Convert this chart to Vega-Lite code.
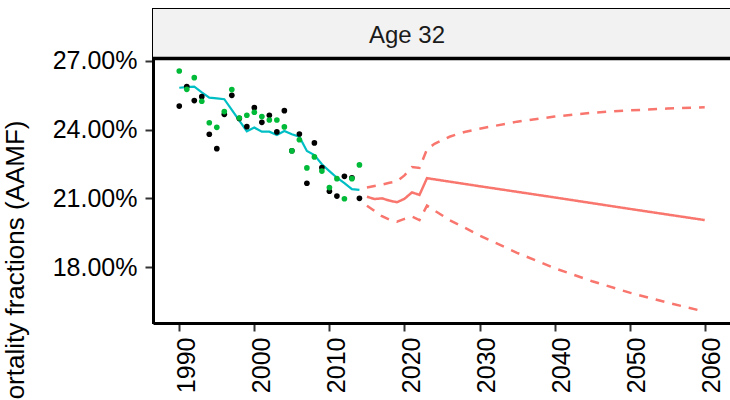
{
  "$schema": "https://vega.github.io/schema/vega-lite/v6.json",
  "autosize": {"type": "none"},
  "width": 578,
  "height": 314,
  "padding": {"left": 153, "top": 9, "right": 0, "bottom": 80},
  "background": "white",
  "config": {
    "font": "Liberation Sans",
    "view": {"stroke": "black", "strokeWidth": 2},
    "axis": {"grid": false}
  },
  "datasets": {
    "obs": [
      {"year": 1990, "kind": "A", "value": 0.2503},
      {"year": 1991, "kind": "A", "value": 0.2588},
      {"year": 1992, "kind": "A", "value": 0.2527},
      {"year": 1993, "kind": "A", "value": 0.2544},
      {"year": 1994, "kind": "A", "value": 0.2380},
      {"year": 1995, "kind": "A", "value": 0.2317},
      {"year": 1996, "kind": "A", "value": 0.2467},
      {"year": 1997, "kind": "A", "value": 0.2550},
      {"year": 1998, "kind": "A", "value": 0.2449},
      {"year": 1999, "kind": "A", "value": 0.2413},
      {"year": 2000, "kind": "A", "value": 0.2496},
      {"year": 2001, "kind": "A", "value": 0.2432},
      {"year": 2002, "kind": "A", "value": 0.2463},
      {"year": 2003, "kind": "A", "value": 0.2390},
      {"year": 2004, "kind": "A", "value": 0.2483},
      {"year": 2005, "kind": "A", "value": 0.2308},
      {"year": 2006, "kind": "A", "value": 0.2381},
      {"year": 2007, "kind": "A", "value": 0.2166},
      {"year": 2008, "kind": "A", "value": 0.2342},
      {"year": 2009, "kind": "A", "value": 0.2234},
      {"year": 2010, "kind": "A", "value": 0.2131},
      {"year": 2011, "kind": "A", "value": 0.2110},
      {"year": 2012, "kind": "A", "value": 0.2196},
      {"year": 2013, "kind": "A", "value": 0.2190},
      {"year": 2014, "kind": "A", "value": 0.2100},
      {"year": 1990, "kind": "B", "value": 0.2656},
      {"year": 1991, "kind": "B", "value": 0.2576},
      {"year": 1992, "kind": "B", "value": 0.2627},
      {"year": 1993, "kind": "B", "value": 0.2524},
      {"year": 1994, "kind": "B", "value": 0.2430},
      {"year": 1995, "kind": "B", "value": 0.2410},
      {"year": 1996, "kind": "B", "value": 0.2479},
      {"year": 1997, "kind": "B", "value": 0.2575},
      {"year": 1998, "kind": "B", "value": 0.2451},
      {"year": 1999, "kind": "B", "value": 0.2463},
      {"year": 2000, "kind": "B", "value": 0.2476},
      {"year": 2001, "kind": "B", "value": 0.2457},
      {"year": 2002, "kind": "B", "value": 0.2442},
      {"year": 2003, "kind": "B", "value": 0.2442},
      {"year": 2004, "kind": "B", "value": 0.2412},
      {"year": 2005, "kind": "B", "value": 0.2307},
      {"year": 2006, "kind": "B", "value": 0.2356},
      {"year": 2007, "kind": "B", "value": 0.2233},
      {"year": 2008, "kind": "B", "value": 0.2281},
      {"year": 2009, "kind": "B", "value": 0.2219},
      {"year": 2010, "kind": "B", "value": 0.2147},
      {"year": 2011, "kind": "B", "value": 0.2186},
      {"year": 2012, "kind": "B", "value": 0.2098},
      {"year": 2013, "kind": "B", "value": 0.2186},
      {"year": 2014, "kind": "B", "value": 0.2246}
    ],
    "fit": [
      {"year": 1990, "value": 0.2583},
      {"year": 1991, "value": 0.2586},
      {"year": 1992, "value": 0.2588},
      {"year": 1993, "value": 0.2563},
      {"year": 1994, "value": 0.2540},
      {"year": 1995, "value": 0.2537},
      {"year": 1996, "value": 0.2533},
      {"year": 1997, "value": 0.2486},
      {"year": 1998, "value": 0.2439},
      {"year": 1999, "value": 0.2393},
      {"year": 2000, "value": 0.2409},
      {"year": 2001, "value": 0.2391},
      {"year": 2002, "value": 0.2391},
      {"year": 2003, "value": 0.2377},
      {"year": 2004, "value": 0.2394},
      {"year": 2005, "value": 0.2380},
      {"year": 2006, "value": 0.2369},
      {"year": 2007, "value": 0.2307},
      {"year": 2008, "value": 0.2289},
      {"year": 2009, "value": 0.2249},
      {"year": 2010, "value": 0.2219},
      {"year": 2011, "value": 0.2190},
      {"year": 2012, "value": 0.2166},
      {"year": 2013, "value": 0.2140},
      {"year": 2014, "value": 0.2137}
    ],
    "proj": [
      {"year": 2015, "band": "mean", "value": 0.2107},
      {"year": 2016, "band": "mean", "value": 0.2097},
      {"year": 2017, "band": "mean", "value": 0.2100},
      {"year": 2018, "band": "mean", "value": 0.2090},
      {"year": 2019, "band": "mean", "value": 0.2083},
      {"year": 2020, "band": "mean", "value": 0.2098},
      {"year": 2021, "band": "mean", "value": 0.2126},
      {"year": 2022, "band": "mean", "value": 0.2115},
      {"year": 2023, "band": "mean", "value": 0.2188},
      {"year": 2030, "band": "mean", "value": 0.2153},
      {"year": 2040, "band": "mean", "value": 0.2104},
      {"year": 2050, "band": "mean", "value": 0.2054},
      {"year": 2060, "band": "mean", "value": 0.2005},
      {"year": 2015, "band": "upper", "value": 0.2147},
      {"year": 2016, "band": "upper", "value": 0.2154},
      {"year": 2017, "band": "upper", "value": 0.2160},
      {"year": 2018, "band": "upper", "value": 0.2168},
      {"year": 2019, "band": "upper", "value": 0.2174},
      {"year": 2020, "band": "upper", "value": 0.2200},
      {"year": 2021, "band": "upper", "value": 0.2237},
      {"year": 2022, "band": "upper", "value": 0.2233},
      {"year": 2023, "band": "upper", "value": 0.2314},
      {"year": 2024, "band": "upper", "value": 0.2338},
      {"year": 2026, "band": "upper", "value": 0.2369},
      {"year": 2028, "band": "upper", "value": 0.2390},
      {"year": 2030, "band": "upper", "value": 0.2404},
      {"year": 2035, "band": "upper", "value": 0.2435},
      {"year": 2040, "band": "upper", "value": 0.2457},
      {"year": 2045, "band": "upper", "value": 0.2474},
      {"year": 2050, "band": "upper", "value": 0.2484},
      {"year": 2055, "band": "upper", "value": 0.2492},
      {"year": 2060, "band": "upper", "value": 0.2498},
      {"year": 2015, "band": "lower", "value": 0.2068},
      {"year": 2016, "band": "lower", "value": 0.2045},
      {"year": 2017, "band": "lower", "value": 0.2022},
      {"year": 2018, "band": "lower", "value": 0.2007},
      {"year": 2019, "band": "lower", "value": 0.1998},
      {"year": 2020, "band": "lower", "value": 0.2010},
      {"year": 2021, "band": "lower", "value": 0.2020},
      {"year": 2022, "band": "lower", "value": 0.2005},
      {"year": 2023, "band": "lower", "value": 0.2068},
      {"year": 2024, "band": "lower", "value": 0.2047},
      {"year": 2025, "band": "lower", "value": 0.2026},
      {"year": 2026, "band": "lower", "value": 0.2005},
      {"year": 2028, "band": "lower", "value": 0.1972},
      {"year": 2030, "band": "lower", "value": 0.1938},
      {"year": 2035, "band": "lower", "value": 0.1862},
      {"year": 2040, "band": "lower", "value": 0.1795},
      {"year": 2045, "band": "lower", "value": 0.1738},
      {"year": 2050, "band": "lower", "value": 0.1688},
      {"year": 2055, "band": "lower", "value": 0.1645},
      {"year": 2060, "band": "lower", "value": 0.1605}
    ],
    "strip": [
      {"label": "Age 32"}
    ]
  },
  "encoding": {
    "x": {
      "type": "quantitative",
      "scale": {"domain": [1986.5, 2063.5], "nice": false, "zero": false},
      "axis": {
        "values": [1990, 2000, 2010, 2020, 2030, 2040, 2050, 2060],
        "format": "d",
        "title": null,
        "labelAngle": -90,
        "labelFontSize": 25,
        "labelColor": "black",
        "labelPadding": 6,
        "labelOffset": 7,
        "tickColor": "#333333",
        "tickSize": 8,
        "tickWidth": 2,
        "domainColor": "black",
        "domainWidth": 3
      }
    },
    "y": {
      "type": "quantitative",
      "scale": {"domain": [0.15555, 0.2927], "nice": false, "zero": false},
      "axis": {
        "values": [0.18, 0.21, 0.24, 0.27],
        "format": ".2%",
        "title": "Mortality fractions (AAMF)",
        "titleFontSize": 26,
        "titleFontWeight": "normal",
        "titleColor": "black",
        "titleAngle": -90,
        "titleAlign": "right",
        "titleBaseline": "alphabetic",
        "titleX": -130,
        "titleY": 111,
        "labelFontSize": 25,
        "labelColor": "black",
        "labelPadding": 8,
        "tickColor": "#333333",
        "tickSize": 8,
        "tickWidth": 2,
        "domainColor": "black",
        "domainWidth": 3
      }
    }
  },
  "layer": [
    {
      "data": {"name": "strip"},
      "mark": {"type": "rect", "fill": "#F2F2F2"},
      "encoding": {
        "x": {"datum": 1986.5},
        "x2": {"datum": 2063.5},
        "y": {"datum": 0.2711},
        "y2": {"datum": 0.2927}
      }
    },
    {
      "data": {"name": "strip"},
      "mark": {"type": "rule", "color": "black", "strokeWidth": 3.5},
      "encoding": {"y": {"datum": 0.2711}}
    },
    {
      "data": {"name": "strip"},
      "mark": {"type": "text", "fontSize": 24, "color": "#1A1A1A", "align": "center", "baseline": "alphabetic"},
      "encoding": {"x": {"datum": 2020.34}, "y": {"datum": 0.2777}, "text": {"field": "label"}}
    },
    {
      "data": {"name": "fit"},
      "mark": {"type": "line", "color": "#00BFC4", "strokeWidth": 2.2},
      "encoding": {"x": {"field": "year"}, "y": {"field": "value"}}
    },
    {
      "data": {"name": "obs"},
      "mark": {"type": "point", "filled": true, "size": 32, "opacity": 1},
      "encoding": {
        "x": {"field": "year"},
        "y": {"field": "value"},
        "color": {
          "field": "kind",
          "type": "nominal",
          "scale": {"domain": ["A", "B"], "range": ["black", "#00BA38"]},
          "legend": null
        }
      }
    },
    {
      "data": {"name": "proj"},
      "mark": {"type": "line", "color": "#F8766D", "strokeWidth": 2.5},
      "encoding": {
        "x": {"field": "year"},
        "y": {"field": "value"},
        "detail": {"field": "band"},
        "strokeDash": {
          "field": "band",
          "type": "nominal",
          "scale": {"domain": ["mean", "upper", "lower"], "range": [[1, 0], [9, 8], [9, 8]]},
          "legend": null
        }
      }
    }
  ]
}
